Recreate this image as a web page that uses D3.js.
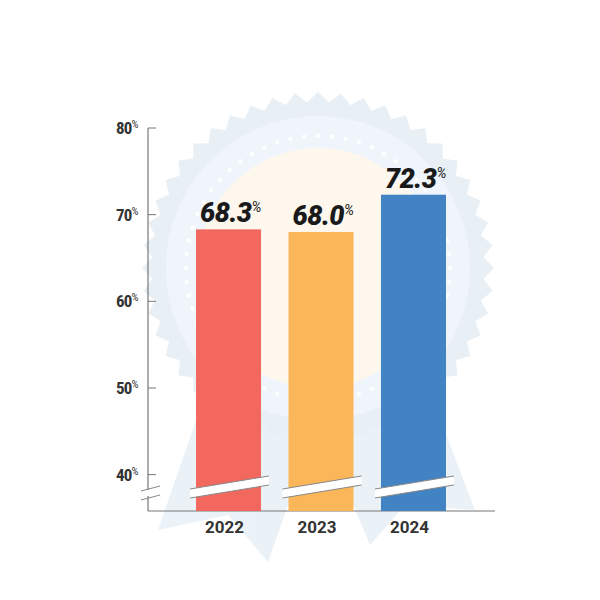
<!DOCTYPE html>
<html><head><meta charset="utf-8">
<script src="https://cdn.jsdelivr.net/npm/d3@7"></script>
<style>body{margin:0;background:#fff}</style>
</head><body>
<svg id="chart"></svg>
<script>
const years = ['2022', '2023', '2024'];
const values = [68.3, 68.0, 72.3];
const colors = ['#f2685e', '#fbb65a', '#4283c4'];
const ticks = [40, 50, 60, 70, 80];

const w = 600, h = 600;
const svg = d3.select('#chart').attr('width', w).attr('height', h);

// faded rosette in the background
const bg = svg.append('g').attr('opacity', 0.5);
const cx = 318, cy = 268;
bg.append('path').attr('fill', '#d8e6f1')
  .attr('d', 'M210,380 L158,530 L228,515 L268,562 L318,420 Z');
bg.append('path').attr('fill', '#d8e6f1')
  .attr('d', 'M318,420 L370,545 L405,505 L475,510 L425,380 Z');
const star = d3.range(96).map(i => {
  const a = i / 96 * 2 * Math.PI, r = i % 2 ? 166 : 176;
  return [cx + r * Math.sin(a), cy - r * Math.cos(a)];
});
bg.append('path').attr('fill', '#d3e3ef').attr('d', d3.line()(star) + 'Z');
bg.append('circle').attr('cx', cx).attr('cy', cy).attr('r', 152).attr('fill', '#e1edf6');
bg.selectAll('.dot').data(d3.range(60)).enter().append('circle')
  .attr('cx', i => cx + 132 * Math.sin(i / 60 * 2 * Math.PI))
  .attr('cy', i => cy - 132 * Math.cos(i / 60 * 2 * Math.PI))
  .attr('r', 2.2).attr('fill', '#fff');
bg.append('circle').attr('cx', cx).attr('cy', cy).attr('r', 120).attr('fill', '#fdf1dc');

const y = d3.scaleLinear().domain([35.8, 80]).range([511, 128]);
const x = d3.scaleBand().domain(years).range([172.9, 469.1]).paddingInner(0.297).paddingOuter(0.25);

// axes
svg.append('line').attr('x1', 148).attr('x2', 148).attr('y1', y(80)).attr('y2', 511)
  .attr('stroke', '#777').attr('stroke-width', 1.2);
svg.append('line').attr('x1', 148).attr('x2', 495).attr('y1', 511).attr('y2', 511)
  .attr('stroke', '#777').attr('stroke-width', 1.2);
svg.selectAll('.tick').data(ticks).enter().append('line')
  .attr('x1', 148).attr('x2', 156).attr('y1', d => y(d)).attr('y2', d => y(d))
  .attr('stroke', '#777');
const tl = svg.selectAll('.tl').data(ticks).enter().append('text')
  .attr('x', 116).attr('y', d => y(d) + 6)
  .attr('font-family', 'Roboto Condensed, Roboto, sans-serif').attr('font-weight', 'bold')
  .attr('font-size', 17).attr('fill', '#333').attr('letter-spacing', -0.8);
tl.append('tspan').text(d => d);
tl.append('tspan').text('%').attr('font-size', 11).attr('font-weight', 'normal').attr('dy', -6);

// axis break marks
[489, 498].forEach(yy => svg.append('line').attr('x1', 141).attr('x2', 160)
  .attr('y1', yy + 2).attr('y2', yy - 3).attr('stroke', '#888').attr('fill', 'none'));
svg.append('rect').attr('x', 146).attr('y', 490).attr('width', 5).attr('height', 6).attr('fill', '#fff');

// bars
svg.selectAll('.bar').data(values).enter().append('rect')
  .attr('x', (d, i) => x(years[i])).attr('width', x.bandwidth())
  .attr('y', d => y(d)).attr('height', d => 511 - y(d))
  .attr('fill', (d, i) => colors[i]);

// bar break bands
years.forEach(yr => {
  const x0 = x(yr) - 6, x1 = x(yr) + x.bandwidth() + 8;
  svg.append('path').attr('fill', '#fff')
    .attr('d', `M${x0},${489} L${x1},${476} L${x1},${485} L${x0},${498} Z`);
  svg.append('line').attr('x1', x0).attr('y1', 489).attr('x2', x1).attr('y2', 476).attr('stroke', '#888');
  svg.append('line').attr('x1', x0).attr('y1', 498).attr('x2', x1).attr('y2', 485).attr('stroke', '#888');
});

// value labels
const vl = svg.selectAll('.vl').data(values).enter().append('text')
  .attr('x', (d, i) => x(years[i]) + x.bandwidth() / 2 + 2).attr('y', d => y(d) - 7)
  .attr('text-anchor', 'middle').attr('font-family', 'Roboto, sans-serif')
  .attr('font-weight', 900).attr('font-style', 'italic').attr('font-size', 27).attr('fill', '#1a1a1a')
  .attr('letter-spacing', -0.5);
vl.append('tspan').text(d => d.toFixed(1));
vl.append('tspan').text('%').attr('font-size', 14).attr('font-weight', 'normal').attr('dy', -10);

// year labels
svg.selectAll('.yl').data(years).enter().append('text')
  .attr('x', d => x(d) + x.bandwidth() / 2 - 4).attr('y', 533)
  .attr('text-anchor', 'middle').attr('font-family', 'Roboto, sans-serif')
  .attr('font-weight', 'bold').attr('font-size', 17).attr('fill', '#333').text(d => d);
</script>
</body></html>
